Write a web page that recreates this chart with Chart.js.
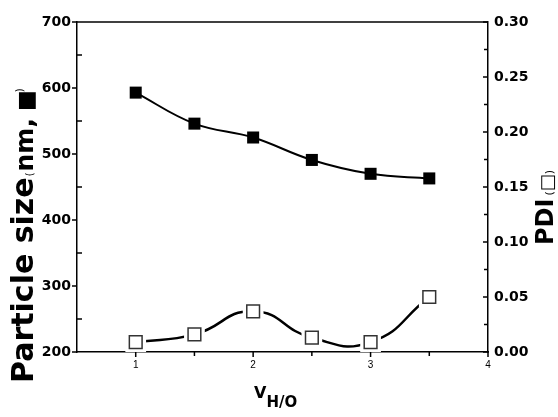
<!DOCTYPE html>
<html>
<head>
<meta charset="utf-8">
<script src="https://cdn.jsdelivr.net/npm/chart.js@4.4.0/dist/chart.umd.min.js"></script>
<style>
  html, body { margin: 0; padding: 0; background: #fff; }
  canvas { display: block; }
</style>
</head>
<body>
<canvas id="sizeChart" width="558" height="417"></canvas>
<script>
const vhoRatio = [1, 1.5, 2, 2.5, 3, 3.5];
const particleSize = [593, 546, 525, 491, 470, 463];
const pdiValues = [0.009, 0.016, 0.037, 0.013, 0.009, 0.050];

const xTickLabels = [1, 2, 3, 4];
const xMinorTicks = [1.5, 2.5, 3.5];
const sizeTicks = [200, 300, 400, 500, 600, 700];
const sizeMinorTicks = [250, 350, 450, 550, 650];
const pdiTicks = [0, 0.05, 0.1, 0.15, 0.2, 0.25, 0.3];
const pdiMinorTicks = [0.025, 0.075, 0.125, 0.175, 0.225, 0.275];

const toPoints = (ys) => ys.map((y, i) => ({ x: vhoRatio[i], y }));

// draws the tick marks, the top frame line and the axis titles
const axisDecor = {
  id: "axisDecor",
  afterDraw(chart) {
    const { ctx, chartArea: a, scales } = chart;
    ctx.save();
    ctx.strokeStyle = "#000";
    ctx.lineWidth = 1.5;
    const tick = (x1, y1, x2, y2) => {
      ctx.beginPath();
      ctx.moveTo(x1, y1);
      ctx.lineTo(x2, y2);
      ctx.stroke();
    };
    tick(a.left, a.top, a.right, a.top);
    sizeTicks.forEach((v) => {
      const y = scales.y.getPixelForValue(v);
      tick(a.left - 5, y, a.left, y);
    });
    sizeMinorTicks.forEach((v) => {
      const y = scales.y.getPixelForValue(v);
      tick(a.left, y, a.left + 5, y);
    });
    pdiTicks.forEach((v) => {
      const y = scales.y2.getPixelForValue(v);
      tick(a.right - 5, y, a.right, y);
    });
    pdiMinorTicks.forEach((v) => {
      const y = scales.y2.getPixelForValue(v);
      tick(a.right - 4, y, a.right, y);
    });
    xTickLabels.forEach((v) => {
      const x = scales.x.getPixelForValue(v);
      tick(x, a.bottom, x, a.bottom + 5);
    });
    xMinorTicks.forEach((v) => {
      const x = scales.x.getPixelForValue(v);
      tick(x, a.bottom, x, a.bottom + 4);
    });

    ctx.fillStyle = "#000";
    const drawUp = (x, y, parts) => {
      ctx.save();
      ctx.translate(x, y);
      ctx.rotate(-Math.PI / 2);
      ctx.textAlign = "left";
      ctx.textBaseline = "alphabetic";
      let cx = 0;
      parts.forEach((p) => {
        ctx.font = p.font;
        ctx.fillText(p.text, cx, p.dy || 0);
        cx += ctx.measureText(p.text).width + (p.gap || 0);
      });
      ctx.restore();
    };
    drawUp(33, 383, [
      { text: "Particle size", font: "bold 30px 'DejaVu Sans'", gap: 1 },
      { text: "(", font: "10px 'DejaVu Sans'", gap: 1 },
      { text: "nm,", font: "bold 25px 'DejaVu Sans'", gap: 7 },
      { text: "■", font: "bold 22px 'DejaVu Sans'", gap: -2 },
      { text: ")", font: "10px 'DejaVu Sans'", dy: -10 },
    ]);
    drawUp(553, 245, [
      { text: "PDI", font: "bold 24px 'DejaVu Sans'", gap: 3 },
      { text: "(", font: "11px 'DejaVu Sans'", gap: 0 },
      { text: "□", font: "18px 'DejaVu Sans'", gap: 0 },
      { text: ")", font: "11px 'DejaVu Sans'" },
    ]);

    ctx.font = "bold 16px 'DejaVu Sans'";
    ctx.textAlign = "left";
    ctx.fillText("V", 254, 398);
    const vw = ctx.measureText("V").width;
    ctx.font = "bold 15px 'DejaVu Sans'";
    ctx.fillText("H/O", 254 + vw, 407);
    ctx.restore();
  },
};

const hiddenGrid = { display: true, drawOnChartArea: false, drawTicks: false, color: "rgba(0,0,0,0)" };
const frame = { display: true, color: "#000", width: 1.5 };

new Chart(document.getElementById("sizeChart").getContext("2d"), {
  type: "line",
  data: {
    datasets: [
      {
        label: "Particle size",
        data: toPoints(particleSize),
        yAxisID: "y",
        borderColor: "#000",
        borderWidth: 2,
        tension: 0.4,
        pointStyle: "rect",
        pointRadius: 8.5,
        pointBackgroundColor: "#000",
        pointBorderColor: "#000",
        pointBorderWidth: 0,
      },
      {
        label: "PDI",
        data: toPoints(pdiValues),
        yAxisID: "y2",
        showLine: false,
        pointStyle: "rect",
        pointRadius: 9,
        pointBackgroundColor: "#fff",
        pointBorderColor: "#333",
        pointBorderWidth: 1.5,
      },
      {
        label: "PDI gap",
        data: toPoints(pdiValues),
        yAxisID: "y2",
        showLine: false,
        pointStyle: "rect",
        pointRadius: 9,
        pointBackgroundColor: "#fff",
        pointBorderColor: "#fff",
        pointBorderWidth: 8,
      },
      {
        label: "PDI line",
        data: toPoints(pdiValues),
        yAxisID: "y2",
        borderColor: "#000",
        borderWidth: 2.5,
        tension: 0.5,
        pointRadius: 0,
      },
    ],
  },
  options: {
    responsive: false,
    animation: false,
    layout: { padding: { top: 22, left: 0, right: 0, bottom: 0 } },
    plugins: { legend: { display: false }, tooltip: { enabled: false } },
    scales: {
      x: {
        type: "linear",
        min: 0.5,
        max: 4,
        afterBuildTicks: (s) => { s.ticks = xTickLabels.map((v) => ({ value: v })); },
        afterFit: (s) => { s.height = 65; },
        grid: hiddenGrid,
        border: frame,
        ticks: { padding: 7, color: "#000", font: { family: "'Liberation Sans'", size: 10 } },
      },
      y: {
        position: "left",
        min: 200,
        max: 700,
        afterBuildTicks: (s) => { s.ticks = sizeTicks.map((v) => ({ value: v })); },
        afterFit: (s) => { s.width = 77; },
        grid: hiddenGrid,
        border: frame,
        ticks: { padding: 6, color: "#000", font: { family: "'DejaVu Sans'", size: 14, weight: "bold" } },
      },
      y2: {
        position: "right",
        min: 0,
        max: 0.3,
        afterBuildTicks: (s) => { s.ticks = pdiTicks.map((v) => ({ value: v })); },
        afterFit: (s) => { s.width = 70; },
        grid: hiddenGrid,
        border: frame,
        ticks: {
          padding: 6,
          color: "#000",
          font: { family: "'DejaVu Sans'", size: 14, weight: "bold" },
          callback: (v) => Number(v).toFixed(2),
        },
      },
    },
  },
  plugins: [axisDecor],
});
</script>
</body>
</html>
